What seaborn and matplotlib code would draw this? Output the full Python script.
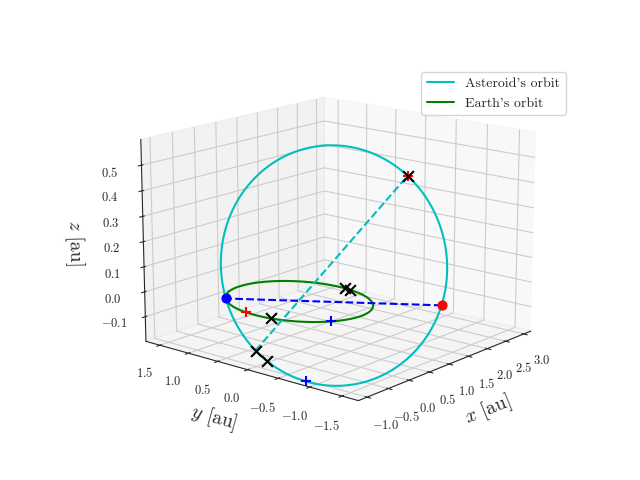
import numpy as np
import matplotlib
matplotlib.use("Agg")
import matplotlib.pyplot as plt
import seaborn as sns

sns.set_style("white")
plt.rcParams["mathtext.fontset"] = "cm"
plt.rcParams["font.family"] = "serif"
plt.rcParams["font.serif"] = ["cmr10"]
plt.rcParams["axes.formatter.use_mathtext"] = True

# asteroid orbital elements (estimated)
a_ast = 1.65
e_ast = 0.45
inc_deg = 13.5
node_deg = 310.0
argp_deg = 225.0

# axis ticks
x_ticks = [-1.0, -0.5, 0.0, 0.5, 1.0, 1.5, 2.0, 2.5, 3.0]
y_ticks = [-1.5, -1.0, -0.5, 0.0, 0.5, 1.0, 1.5]
z_ticks = [-0.1, 0.0, 0.1, 0.2, 0.3, 0.4, 0.5]

# marked positions: asteroid true anomaly [deg], Earth longitude [deg]
ast_black_x = [0.0, 12.0, 180.0]
ast_blue_plus = [45.0]
ast_red_plus = [180.0]
earth_black_x = [193.0, 350.0, 355.0]
earth_blue_plus = [240.0]
earth_red_plus = [170.0]


def orbit(a, e, inc, node, argp, nu):
    nu = np.asarray(nu, dtype=float)
    r = a * (1 - e**2) / (1 + e * np.cos(nu))
    u = nu + np.radians(argp)
    O = np.radians(node)
    i = np.radians(inc)
    x = r * (np.cos(O) * np.cos(u) - np.sin(O) * np.sin(u) * np.cos(i))
    y = r * (np.sin(O) * np.cos(u) + np.cos(O) * np.sin(u) * np.cos(i))
    z = r * np.sin(u) * np.sin(i)
    return x, y, z


def ast(nu):
    return orbit(a_ast, e_ast, inc_deg, node_deg, argp_deg, nu)


def earth(nu):
    return orbit(1.0, 0.0, 0.0, 0.0, 0.0, nu)


fig = plt.figure(figsize=(6.4, 4.8), dpi=100)
ax = fig.add_subplot(projection="3d")
ax.set_position([0.123, 0.095, 0.8, 0.8])
ax.view_init(elev=15, azim=-140)
ax.set_box_aspect(None, zoom=1.12)

nu = np.linspace(0, 2 * np.pi, 400)
ax.plot(*ast(nu), color="c", label="Asteroid's orbit")
ax.plot(*earth(nu), color="g", label="Earth's orbit")

# line of nodes
w = np.radians(argp_deg)
asc = ast(-w)
desc = ast(np.pi - w)
ax.plot([asc[0], desc[0]], [asc[1], desc[1]], [asc[2], desc[2]], "b--")
ax.scatter(*desc, color="b", s=40, depthshade=False)
ax.scatter(*asc, color="r", s=40, depthshade=False)

# line of apsides
peri = ast(0.0)
aph = ast(np.pi)
ax.plot([peri[0], aph[0]], [peri[1], aph[1]], [peri[2], aph[2]], "c--")

kw = dict(depthshade=False, s=60)
ax.scatter(*ast(np.radians(ast_red_plus)), color="r", marker="+", **kw)
ax.scatter(*ast(np.radians(ast_black_x)), color="k", marker="x", **kw)
ax.scatter(*ast(np.radians(ast_blue_plus)), color="b", marker="+", **kw)
ax.scatter(*earth(np.radians(earth_black_x)), color="k", marker="x", **kw)
ax.scatter(*earth(np.radians(earth_blue_plus)), color="b", marker="+", **kw)
ax.scatter(*earth(np.radians(earth_red_plus)), color="r", marker="+", **kw)

ax.set_xticks(x_ticks)
ax.set_yticks(y_ticks)
ax.set_zticks(z_ticks)
ax.set_xlim(-1.2, 3.2)
ax.set_ylim(-1.75, 1.75)
ax.set_zlim(-0.2, 0.6)
ax.tick_params(labelsize=9)
ax.set_xlabel(r"$x$ [au]", fontsize=14)
ax.set_ylabel(r"$y$ [au]", fontsize=14)
ax.set_zlabel(r"$z$ [au]", fontsize=14)
fig.legend(loc="upper right", bbox_to_anchor=(0.895, 0.865))
fig.savefig("out.png")
